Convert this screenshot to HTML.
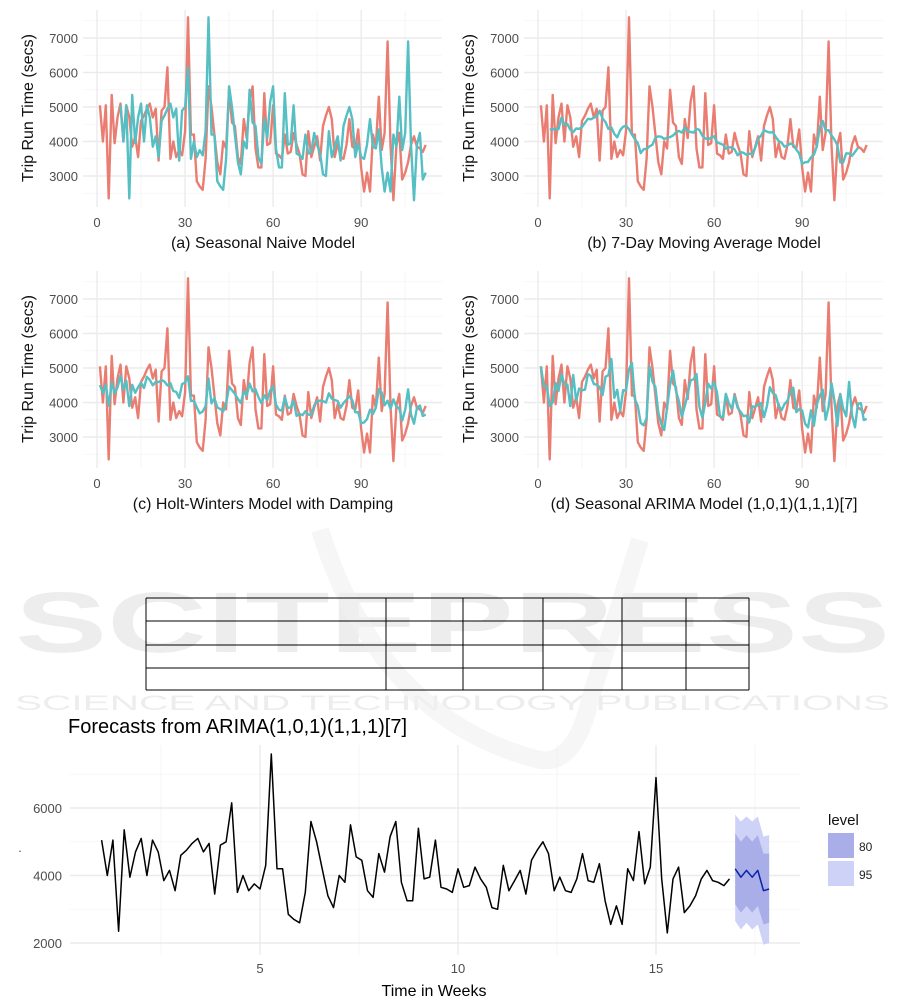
<!DOCTYPE html>
<html><head><meta charset="utf-8">
<style>
html,body{margin:0;padding:0;background:#fff;}
svg{display:block;font-family:"Liberation Sans",Arial,sans-serif;}
</style></head><body>
<svg id="s" width="901" height="1003" viewBox="0 0 901 1003" xmlns="http://www.w3.org/2000/svg">
<g id="wm" fill="#ededed">
<text x="15" y="652" font-size="86" font-weight="bold" textLength="875" lengthAdjust="spacingAndGlyphs">SCITEPRESS</text>
<text x="15" y="710" font-size="21" textLength="875" lengthAdjust="spacingAndGlyphs">SCIENCE AND TECHNOLOGY PUBLICATIONS</text>
</g>
<path d="M320 530 Q380 720 540 760 Q575 765 590 700 L640 540" fill="none" stroke="#f0f0f0" stroke-width="18" opacity="0.6"/>
</svg>
<script>
var D=[5050,4000,5050,2350,5350,3950,4700,5100,4000,5050,4700,3850,4150,3550,4600,4750,4950,5100,4700,4950,3450,4900,5000,6150,3500,4000,3550,3750,3600,4300,7600,4200,4200,2850,2700,2600,
3500,5600,5000,4200,3400,3050,4000,3800,5500,4550,4450,3550,3350,4650,4100,5150,5600,3800,3250,3250,5400,3900,3950,5050,3650,3600,3500,4200,3650,3700,4250,3900,3650,3050,3000,4300,3550,3850,4150,3450,4450,4750,5000,4650,3550,3950,3550,3500,3900,4650,3850,3800,4350,3250,2550,3100,2550,4200,3850,5300,3750,4250,6900,3900,2300,3900,4250,2900,3100,3400,3900,4150,3850,3800,3700,3900];
var N=D.length;
var s=document.getElementById('s');
var out='';
function L(x1,y1,x2,y2,c,w){out+='<line x1="'+x1+'" y1="'+y1+'" x2="'+x2+'" y2="'+y2+'" stroke="'+c+'" stroke-width="'+w+'"/>';}
function T(x,y,t,sz,c,anc,extra){out+='<text x="'+x+'" y="'+y+'" font-size="'+sz+'" fill="'+c+'" text-anchor="'+(anc||'start')+'" '+(extra||'')+'>'+t+'</text>';}
function P(pts,c,w){var d='';pts.forEach(function(p,i){if(p)d+=(d?'L':'M')+p[0].toFixed(1)+' '+p[1].toFixed(1);});out+='<path d="'+d+'" fill="none" stroke="'+c+'" stroke-width="'+w+'" stroke-linejoin="round"/>';}
var A=[],B=[],C=[],E=[];
for(var i=0;i<N;i++){
 A.push(i>=7?D[i-7]:null);
 if(i>=3&&i<N-3){var m=0;for(var k=-3;k<=3;k++)m+=D[i+k];B.push(m/7);}else B.push(null);
}
for(var i=0;i<N;i++){
 var m=B[i]!=null?B[i]:(B[Math.min(Math.max(i,3),N-4)]);
 var sn=i>=7?D[i-7]:D[i];
 C.push(0.55*m+0.45*(0.5*sn+0.5*m));
 E.push(i>=1?0.35*D[i-1]+0.35*(i>=7?D[i-7]:D[i])+0.3*m:D[0]);
}
var red='#ea7d71',cy='#55bfc3';
function panel(ox,oy,fit,cap,start){
 var x0=ox+97,xs=2.935,y7=oy+38,ys=0.0345;
 function X(v){return x0+v*xs;} function Y(v){return y7+(7000-v)*ys;}
 var l=ox+83,r=ox+442,t=oy+10,b=oy+207;
 for(var v=2500;v<=7500;v+=1000)L(l,Y(v),r,Y(v),'#f3f3f3',0.8);
 for(var v=15;v<=105;v+=30)L(X(v),t,X(v),b,'#f3f3f3',0.8);
 for(var v=3000;v<=7000;v+=1000){L(l,Y(v),r,Y(v),'#ebebeb',1.4);T(ox+78,Y(v)+5,v,13,'#4d4d4d','end');}
 for(var v=0;v<=90;v+=30){L(X(v),t,X(v),b,'#ebebeb',1.4);T(X(v),oy+227,v,13,'#4d4d4d','middle');}
 var ax=ox+33,ay=oy+108;
 T(ax,ay,'Trip Run Time (secs)',16,'#111','middle','transform="rotate(-90 '+ax+' '+ay+')"');
 T(ox+263,oy+248,cap,16,'#111','middle');
 P(D.map(function(v,i){return [X(i+1),Y(v)];}),red,2.4);
 P(fit.map(function(v,i){return v==null||i<start?null:[X(i+1),Y(v)];}),cy,2.4);
}
panel(0,0,A,'(a) Seasonal Naive Model',7);
panel(441,0,B,'(b) 7-Day Moving Average Model',3);
panel(0,261,C,'(c) Holt-Winters Model with Damping',0);
panel(441,261,E,'(d) Seasonal ARIMA Model (1,0,1)(1,1,1)[7]',0);
var tl=146,tr=749,rows=[598,621,645,668,690],cols=[146,386,463,543,622,686,749];
rows.forEach(function(y){L(tl,y,tr,y,'#000',1);});
cols.forEach(function(x){L(x,598,x,690,'#000',1);});
function FX(w){return 260+(w-5)*39.6;} function FY(v){return 943-(v-2000)*0.03375;}
var fl=70,fr=800,ft=745,fb=955;
for(var v=3000;v<=7000;v+=2000)L(fl,FY(v),fr,FY(v),'#f3f3f3',0.8);
for(var w=2.5;w<=17.5;w+=5)L(FX(w),ft,FX(w),fb,'#f3f3f3',0.8);
for(var v=2000;v<=6000;v+=2000){L(fl,FY(v),fr,FY(v),'#ebebeb',1.4);T(62,FY(v)+5,v,13,'#4d4d4d','end');}
for(var w=5;w<=15;w+=5){L(FX(w),ft,FX(w),fb,'#ebebeb',1.4);T(FX(w),973,w,13,'#4d4d4d','middle');}
T(68,733,'Forecasts from ARIMA(1,0,1)(1,1,1)[7]',20,'#000');
T(434,996,'Time in Weeks',16,'#000','middle');
T(20,852,'.',13,'#4d4d4d','middle');
var F=[4200,3950,4150,3950,4150,3550,3600];
var u95=[5800,5600,5750,5600,5750,5150,5200],l95=[2650,2400,2600,2400,2550,1950,2000];
var u80=[5250,5000,5200,5000,5200,4650,4650],l80=[3150,2900,3100,2900,3100,2550,2600];
function band(u,lo,c){var d='';u.forEach(function(v,i){d+=(i?'L':'M')+FX(17+i/7)+' '+FY(v);});for(var i=lo.length-1;i>=0;i--)d+='L'+FX(17+i/7)+' '+FY(lo[i]);out+='<path d="'+d+'Z" fill="'+c+'"/>';}
band(u95,l95,'#cdd2f6');band(u80,l80,'#a9aee9');
P(D.map(function(v,i){return [FX(1+i/7),FY(v)];}),'#000',1.5);
P(F.map(function(v,i){return [FX(17+i/7),FY(v)];}),'#0a22a8',1.5);
T(828,825,'level',15,'#111');
out+='<rect x="828" y="833" width="26" height="25" fill="#a9aee9"/><rect x="828" y="861" width="26" height="25" fill="#cdd2f6"/>';
T(859,851,'80',12,'#222');T(859,879,'95',12,'#222');
s.insertAdjacentHTML('beforeend',out);
</script>
</body></html>
